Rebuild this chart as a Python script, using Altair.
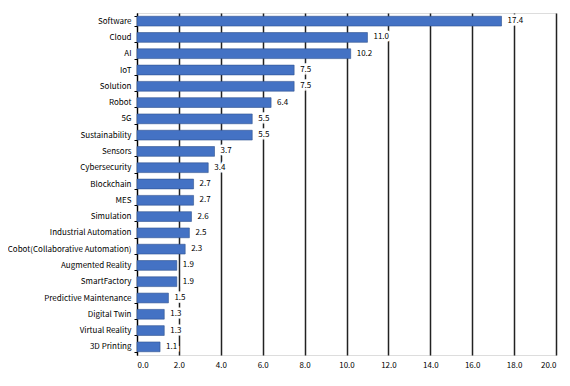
import altair as alt
import pandas as pd

categories = ["Software", "Cloud", "AI", "IoT", "Solution", "Robot", "5G", "Sustainability",
              "Sensors", "Cybersecurity", "Blockchain", "MES", "Simulation",
              "Industrial Automation", "Cobot(Collaborative Automation)", "Augmented Reality",
              "SmartFactory", "Predictive Maintenance", "Digital Twin", "Virtual Reality",
              "3D Printing"]
values = [17.4, 11.0, 10.2, 7.5, 7.5, 6.4, 5.5, 5.5, 3.7, 3.4, 2.7, 2.7, 2.6, 2.5, 2.3,
          1.9, 1.9, 1.5, 1.3, 1.3, 1.1]

df = pd.DataFrame({"cat": categories, "val": values})

FONT = "Noto Sans CJK JP"

y = alt.Y("cat:N", sort=categories, title=None,
          scale=alt.Scale(paddingInner=0.4, paddingOuter=0.2),
          axis=alt.Axis(labelFontSize=8, labelFont=FONT, labelColor="black",
                        domainColor="black", domainWidth=1, tickColor="black",
                        tickSize=3, tickBand="extent", labelPadding=3, grid=False))
x = alt.X("val:Q", title=None,
          scale=alt.Scale(domain=[0, 20], nice=False),
          axis=alt.Axis(values=list(range(0, 21, 2)), format=".1f", labelFontSize=8,
                        labelFont=FONT, labelColor="black", domain=False, ticks=False,
                        grid=True, gridColor="#222222", gridWidth=1.5, labelPadding=6))

bars = alt.Chart(df).mark_bar(color="#4472C4", stroke="#2F528F", strokeWidth=0.6).encode(x=x, y=y)
halo = alt.Chart(df).mark_text(align="left", dx=6, fontSize=8, font=FONT, color="white",
                               stroke="white", strokeWidth=5).encode(
    x="val:Q", y=alt.Y("cat:N", sort=categories), text=alt.Text("val:Q", format=".1f"))
text = alt.Chart(df).mark_text(align="left", dx=6, fontSize=8, font=FONT, color="black").encode(
    x="val:Q", y=alt.Y("cat:N", sort=categories), text=alt.Text("val:Q", format=".1f"))

chart = (bars + halo + text).properties(
    width=419, height=342,
    autosize=alt.AutoSizeParams(type="none"),
    padding={"left": 129, "top": 5, "right": 5, "bottom": 30},
).configure_view(stroke=None).configure(background="white")

chart.save("out.html", embed_options={"renderer": "svg", "actions": False})
